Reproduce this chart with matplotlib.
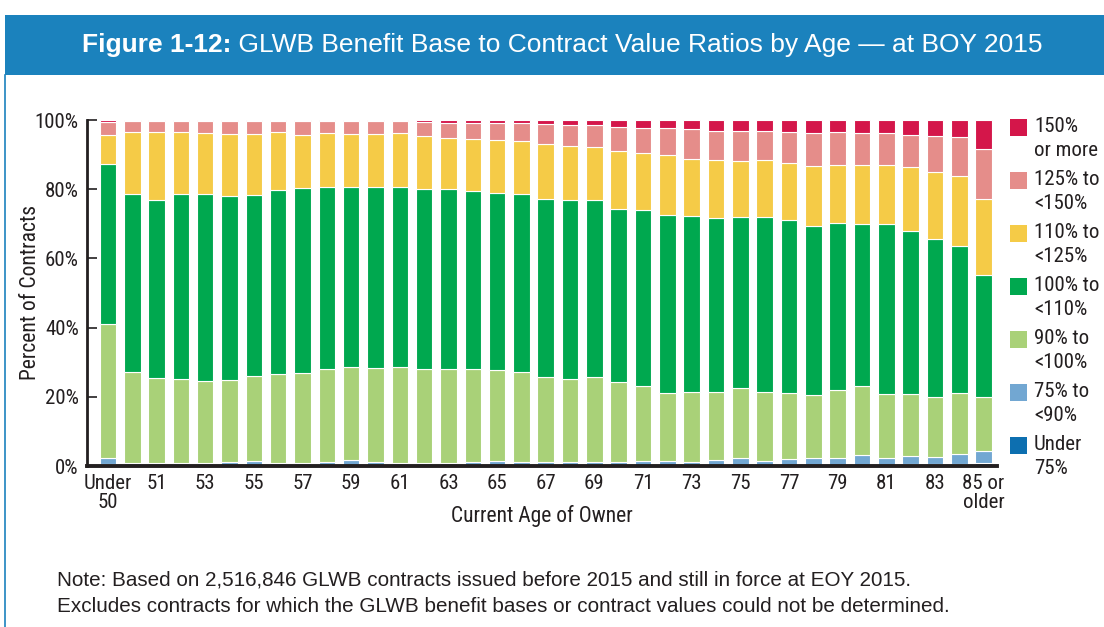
import matplotlib
matplotlib.use("Agg")
import matplotlib.pyplot as plt
from matplotlib import font_manager
from matplotlib.patches import Rectangle
import numpy as np

# ages: Under 50, 50 ... 84, 85 or older
ages = ["Under 50"] + [str(a) for a in range(50, 85)] + ["85 or older"]

under75 = [0.5, 0.2, 0.2, 0.2, 0.2, 0.2, 0.2, 0.2, 0.1, 0.2, 0.2, 0.2, 0.1, 0.1, 0.1, 0.2, 0.2, 0.2, 0.2,
           0.2, 0.2, 0.2, 0.2, 0.2, 0.2, 0.2, 0.3, 0.3, 0.3, 0.3, 0.4, 0.4, 0.4, 0.5, 0.5, 0.7, 0.9]
r75_90 = [1.9, 0.8, 0.7, 0.8, 0.7, 0.9, 1.2, 0.8, 0.7, 1.0, 1.4, 1.0, 0.8, 0.7, 0.7, 1.1, 1.2, 1.1, 1.1,
          1.0, 1.0, 1.1, 1.2, 1.2, 1.1, 1.4, 2.1, 1.1, 1.6, 1.9, 2.0, 2.7, 1.8, 2.4, 2.2, 2.9, 3.4]
r90_100 = [38.5, 26.3, 24.5, 24.1, 23.6, 23.7, 24.7, 25.6, 26.1, 26.7, 26.9, 27.1, 27.6, 27.2, 27.2, 26.7,
           26.3, 25.8, 24.3, 23.9, 24.4, 22.9, 21.6, 19.7, 20.0, 19.9, 20.0, 19.9, 19.2, 18.4, 19.6, 20.1,
           18.6, 17.9, 17.3, 17.4, 15.5]
r100_110 = [46.3, 51.4, 51.4, 53.4, 54.2, 53.1, 52.3, 53.3, 53.4, 52.7, 52.0, 52.2, 52.2, 52.2, 52.0, 51.4,
            51.2, 51.5, 51.7, 51.7, 51.4, 50.0, 50.9, 51.4, 50.9, 50.2, 49.6, 50.7, 49.9, 48.8, 48.3, 46.8,
            49.1, 47.1, 45.5, 42.5, 35.3]
r110_125 = [8.6, 17.7, 19.6, 18.1, 17.6, 18.1, 17.6, 16.5, 15.5, 15.5, 15.5, 15.5, 15.4, 15.3, 14.7, 15.0,
            15.3, 15.3, 15.7, 15.7, 15.3, 16.8, 16.7, 17.4, 16.5, 16.7, 16.2, 16.4, 16.7, 17.4, 16.8, 17.1,
            17.2, 18.4, 19.6, 20.4, 22.2]
r125_150 = [3.7, 3.3, 3.4, 3.2, 3.5, 3.8, 3.7, 3.4, 4.0, 3.7, 3.8, 3.8, 3.7, 4.0, 4.3, 4.6, 4.8, 5.1, 5.7,
            6.0, 6.2, 7.1, 7.2, 7.7, 8.6, 8.5, 8.7, 8.5, 8.9, 9.4, 9.3, 9.1, 9.0, 9.4, 10.3, 11.1, 14.2]
r150_up = [0.5, 0.3, 0.2, 0.2, 0.2, 0.2, 0.3, 0.2, 0.2, 0.2, 0.2, 0.2, 0.2, 0.5, 1.0, 1.0, 1.0, 1.0, 1.3,
           1.5, 1.5, 1.9, 2.2, 2.4, 2.7, 3.1, 3.1, 3.1, 3.4, 3.8, 3.6, 3.8, 3.9, 4.3, 4.6, 5.0, 8.5]

series = [under75, r75_90, r90_100, r100_110, r110_125, r125_150, r150_up]
labels = ["Under\n75%", "75% to\n<90%", "90% to\n<100%", "100% to\n<110%",
          "110% to\n<125%", "125% to\n<150%", "150%\nor more"]
colors = ["#0d6fb0", "#72a7d2", "#a9d178", "#00a84f", "#f5cb47", "#e58d8a", "#d4164a"]

tick_idx = list(range(0, 37, 2))
tick_labels = ["Under\n50"] + [str(a) for a in range(51, 85, 2)] + ["85 or\nolder"]

# pick a condensed face if one is there, else plain Liberation Sans a bit smaller
have = {f.name for f in font_manager.fontManager.ttflist}
cond = [n for n in ["Roboto Condensed", "Liberation Sans Narrow", "Open Sans Condensed",
                    "DejaVu Sans Condensed"] if n in have]
if cond:
    narrow = [cond[0], "DejaVu Sans"]
    fs = 15
else:
    narrow = ["Liberation Sans", "DejaVu Sans"]
    fs = 13
regular = ["Liberation Sans", "DejaVu Sans"]
ink = "#231f20"

fig = plt.figure(figsize=(11.04, 6.27), dpi=100)
fig.patch.set_facecolor("white")

# header band and left rule
fig.add_artist(Rectangle((5 / 1104, 1 - 75 / 627), 1, 60 / 627, transform=fig.transFigure,
                         facecolor="#1b82bd", edgecolor="none"))
fig.add_artist(plt.Line2D([5 / 1104, 5 / 1104], [0, 1 - 75 / 627], transform=fig.transFigure,
                          color="#1b82bd", lw=1.2))

t1 = fig.text(0.5, 1 - 45 / 627, "Figure 1-12:", color="white", fontsize=19, fontweight="bold",
              family=regular, ha="left", va="center")
t2 = fig.text(0.5, 1 - 45 / 627, " GLWB Benefit Base to Contract Value Ratios by Age \u2014 at BOY 2015",
              color="white", fontsize=19, family=regular, ha="left", va="center")
fig.canvas.draw()
r = fig.canvas.get_renderer()
w1 = t1.get_window_extent(r).width / fig.bbox.width
w2 = t2.get_window_extent(r).width / fig.bbox.width
x0 = 562 / 1104 - (w1 + w2) / 2
t1.set_x(x0)
t2.set_x(x0 + w1)

ax = fig.add_axes([87 / 1104, 1 - 466 / 627, (997 - 87) / 1104, (466 - 120) / 627])
x = np.arange(len(ages))
bottom = np.zeros(len(ages))
for vals, col, lab in zip(series, colors, labels):
    ax.bar(x, vals, bottom=bottom, width=0.68, color=col, edgecolor="white", linewidth=0.8, label=lab)
    bottom += np.array(vals)

ax.set_xlim(-0.86, 36.55)
ax.set_ylim(0, 100)
ax.set_yticks([0, 20, 40, 60, 80, 100])
ax.set_yticklabels(["0%", "20%", "40%", "60%", "80%", "100%"])
ax.set_xticks(tick_idx)
ax.set_xticklabels(tick_labels)
for s in ["top", "right"]:
    ax.spines[s].set_visible(False)
ax.spines["left"].set_linewidth(2)
ax.spines["bottom"].set_linewidth(2.8)
ax.spines["left"].set_color(ink)
ax.spines["bottom"].set_color(ink)
ax.tick_params(axis="y", direction="in", length=7, width=1.2, color=ink, pad=6, labelsize=fs,
               labelcolor=ink)
ax.tick_params(axis="x", length=0, pad=6, labelsize=fs, labelcolor=ink)
for lb in ax.get_xticklabels() + ax.get_yticklabels():
    lb.set_family(narrow)
    lb.set_linespacing(1.0)

ax.set_xlabel("Current Age of Owner", fontsize=fs + 0.5, family=narrow, color=ink, labelpad=-5)
ax.yaxis.set_label_coords(-0.05, 0.5)
ax.set_ylabel("Percent of Contracts", fontsize=fs + 0.5, family=narrow, color=ink)

# legend (top entry first)
for i, (col, lab) in enumerate(zip(colors[::-1], labels[::-1])):
    ytop = 1 - (119 + i * 53) / 627
    fig.add_artist(Rectangle((1010 / 1104, ytop - 17 / 627), 17 / 1104, 17 / 627,
                             transform=fig.transFigure, facecolor=col, edgecolor="none"))
    fig.text(1034 / 1104, ytop + 2 / 627, lab, fontsize=fs, family=narrow, color=ink,
             ha="left", va="top", linespacing=1.35)

fig.text(57 / 1104, 1 - 580 / 627,
         "Note: Based on 2,516,846 GLWB contracts issued before 2015 and still in force at EOY 2015.",
         fontsize=14.9, family=regular, color=ink, va="center")
fig.text(57 / 1104, 1 - 606 / 627,
         "Excludes contracts for which the GLWB benefit bases or contract values could not be determined.",
         fontsize=14.9, family=regular, color=ink, va="center")

fig.savefig("out.png", dpi=100, facecolor="white")
